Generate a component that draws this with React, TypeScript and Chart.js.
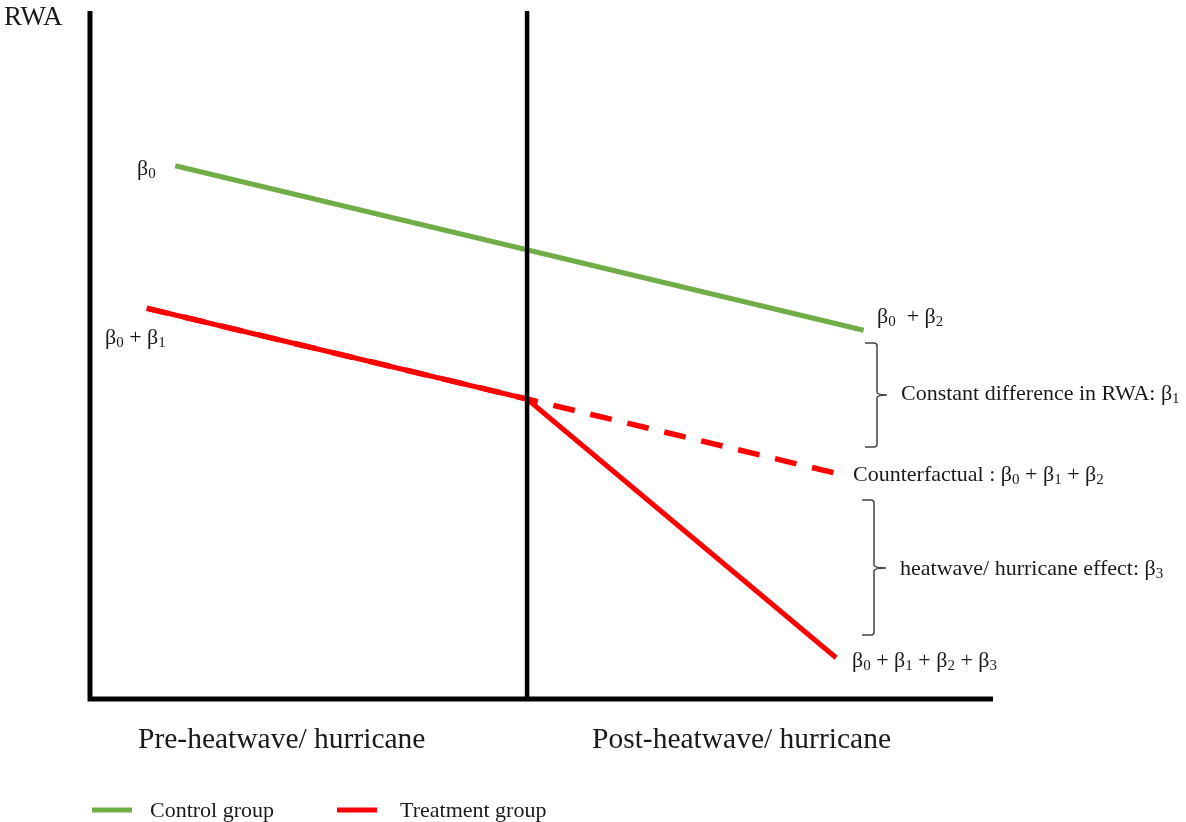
import React, { useEffect, useRef } from "react";
import { Chart, registerables } from "chart.js";

Chart.register(...registerables);

// Schematic values (arbitrary units): time on x, RWA on y
const eventX = 10;
const xMax = 20.66;
const yMax = 100;
const controlX = [1.95, 17.7];
const controlY = [77.5, 53.6];
const treatX = [1.3, 10, 17.07];
const treatY = [56.8, 43.6, 6.0];
const counterY = [56.8, 43.6, 32.8];
const periodLabels = ["Pre-heatwave/ hurricane", "Post-heatwave/ hurricane"];
const seriesNames = ["Control group", "Treatment group"];

const GREEN = "#70AD47";
const RED = "#FF0000";
const TEXT = "#1a1a1a";
const SERIF = "'Liberation Serif', 'Times New Roman', serif";

function drawRich(ctx: CanvasRenderingContext2D, x: number, y: number, text: string, size: number) {
  // "_" makes the next character a subscript
  const segs: { t: string; sub: boolean }[] = [];
  let buf = "";
  for (let i = 0; i < text.length; i++) {
    if (text[i] === "_" && i + 1 < text.length) {
      if (buf) segs.push({ t: buf, sub: false });
      buf = "";
      segs.push({ t: text[i + 1], sub: true });
      i++;
    } else buf += text[i];
  }
  if (buf) segs.push({ t: buf, sub: false });
  ctx.save();
  ctx.fillStyle = TEXT;
  ctx.textAlign = "left";
  ctx.textBaseline = "alphabetic";
  let cx = x;
  for (const s of segs) {
    const fs = s.sub ? Math.round(size * 0.7) : size;
    ctx.font = `${fs}px ${SERIF}`;
    ctx.fillText(s.t, cx, s.sub ? y + size * 0.15 : y);
    cx += ctx.measureText(s.t).width;
  }
  ctx.restore();
}

function drawBrace(ctx: CanvasRenderingContext2D, left: number, vx: number, top: number, bottom: number, mid: number, tip: number) {
  ctx.save();
  ctx.strokeStyle = "#444";
  ctx.lineWidth = 1.5;
  ctx.beginPath();
  ctx.moveTo(left, top);
  ctx.lineTo(vx - 3, top);
  ctx.quadraticCurveTo(vx, top, vx, top + 3);
  ctx.lineTo(vx, mid - 3);
  ctx.quadraticCurveTo(vx, mid, tip, mid);
  ctx.quadraticCurveTo(vx, mid, vx, mid + 3);
  ctx.lineTo(vx, bottom - 3);
  ctx.quadraticCurveTo(vx, bottom, vx - 3, bottom);
  ctx.lineTo(left, bottom);
  ctx.stroke();
  ctx.restore();
}

const overlay = {
  id: "overlay",
  afterDatasetsDraw(chart: any) {
    const ctx: CanvasRenderingContext2D = chart.ctx;
    const xs = chart.scales.x;
    const ys = chart.scales.y;
    const x0 = xs.getPixelForValue(0);
    const x1 = xs.getPixelForValue(xMax);
    const xe = xs.getPixelForValue(eventX);
    const yb = ys.getPixelForValue(0);
    const yt = ys.getPixelForValue(yMax);

    ctx.save();
    ctx.strokeStyle = "#000";
    ctx.lineCap = "butt";
    ctx.lineWidth = 5;
    ctx.beginPath();
    ctx.moveTo(x0, yt);
    ctx.lineTo(x0, yb + 2.5);
    ctx.moveTo(x0 - 2.5, yb);
    ctx.lineTo(x1, yb);
    ctx.stroke();
    ctx.lineWidth = 4.5;
    ctx.beginPath();
    ctx.moveTo(xe, yt);
    ctx.lineTo(xe, yb);
    ctx.stroke();
    ctx.restore();

    // axis title and period labels
    ctx.save();
    ctx.fillStyle = TEXT;
    ctx.font = `27px ${SERIF}`;
    ctx.textBaseline = "alphabetic";
    ctx.fillText("RWA", 4, 25);
    ctx.font = `29.5px ${SERIF}`;
    ctx.fillText(periodLabels[0], 138, 748);
    ctx.fillText(periodLabels[1], 592, 748);
    ctx.restore();

    // point labels
    drawRich(ctx, 137, 175, "β_0", 22);
    drawRich(ctx, 105, 344, "β_0 + β_1", 22);
    drawRich(ctx, 877, 323, "β_0  + β_2", 22);
    drawRich(ctx, 901, 400, "Constant difference in RWA: β_1", 22);
    drawRich(ctx, 853, 481, "Counterfactual : β_0 + β_1 + β_2", 22);
    drawRich(ctx, 900, 575, "heatwave/ hurricane effect: β_3", 22);
    drawRich(ctx, 852, 667, "β_0 + β_1 + β_2 + β_3", 22);

    drawBrace(ctx, 865, 877, 343, 447, 395, 887);
    drawBrace(ctx, 862, 874, 500, 635, 568, 886);

    // legend
    ctx.save();
    ctx.lineWidth = 5;
    ctx.strokeStyle = GREEN;
    ctx.beginPath();
    ctx.moveTo(92, 810);
    ctx.lineTo(132, 810);
    ctx.stroke();
    ctx.strokeStyle = RED;
    ctx.beginPath();
    ctx.moveTo(337, 810);
    ctx.lineTo(377, 810);
    ctx.stroke();
    ctx.fillStyle = TEXT;
    ctx.font = `22px ${SERIF}`;
    ctx.fillText(seriesNames[0], 150, 817);
    ctx.fillText(seriesNames[1], 400, 817);
    ctx.restore();
  },
};

export default function App() {
  const ref = useRef<HTMLCanvasElement | null>(null);
  useEffect(() => {
    if (!ref.current) return;
    const chart = new Chart(ref.current, {
      type: "line",
      data: {
        datasets: [
          {
            label: seriesNames[0],
            data: controlX.map((x, i) => ({ x, y: controlY[i] })),
            borderColor: GREEN,
            borderWidth: 5,
            pointRadius: 0,
          },
          {
            label: "Counterfactual",
            data: treatX.map((x, i) => ({ x, y: counterY[i] })),
            borderColor: RED,
            borderWidth: 5.5,
            borderDash: [22, 16],
            pointRadius: 0,
          },
          {
            label: seriesNames[1],
            data: treatX.map((x, i) => ({ x, y: treatY[i] })),
            borderColor: RED,
            borderWidth: 5,
            pointRadius: 0,
          },
        ],
      },
      options: {
        animation: false,
        responsive: true,
        maintainAspectRatio: false,
        layout: { padding: { left: 90, right: 193, top: 11, bottom: 123 } },
        scales: {
          x: { type: "linear", min: 0, max: xMax, display: false },
          y: { type: "linear", min: 0, max: yMax, display: false },
        },
        plugins: { legend: { display: false }, tooltip: { enabled: false } },
        elements: { line: { tension: 0 } },
      },
      plugins: [overlay],
    } as any);
    return () => chart.destroy();
  }, []);
  return (
    <div style={{ position: "absolute", left: 0, top: 0, width: 1186, height: 822, background: "#fff" }}>
      <canvas ref={ref} />
    </div>
  );
}
